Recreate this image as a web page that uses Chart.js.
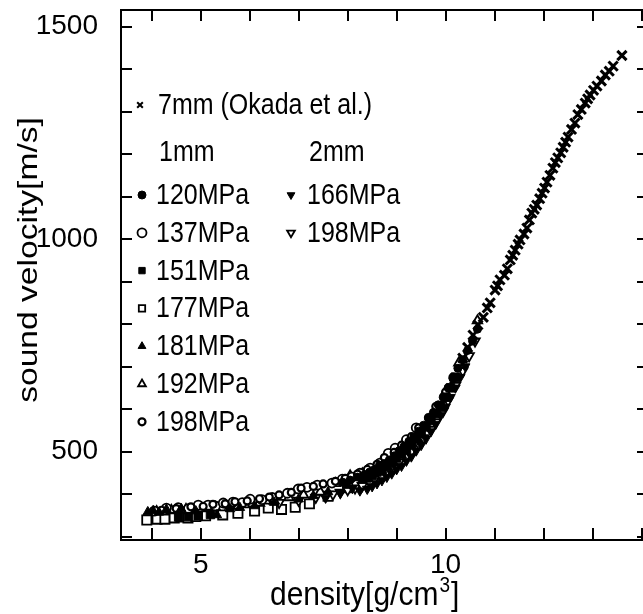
<!DOCTYPE html>
<html>
<head>
<meta charset="utf-8">
<script src="https://cdn.jsdelivr.net/npm/chart.js@4.4.1/dist/chart.umd.min.js"></script>
<style>
  html, body { margin: 0; padding: 0; background: #fff; overflow: hidden; }
  canvas { display: block; }
</style>
</head>
<body>
<canvas id="chart" width="643" height="614"></canvas>
<script>
// values (density g/cm3, velocity m/s)
const okadaDensity = [10.35, 10.45, 10.56, 10.66, 10.77, 10.85, 10.91, 11.01, 11.06, 11.11, 11.2, 11.26, 11.32, 11.37, 11.42, 11.48, 11.52, 11.6, 11.66, 11.71, 11.76, 11.81, 11.86, 11.92, 11.97, 12.02, 12.07, 12.13, 12.19, 12.24, 12.29, 12.35, 12.4, 12.45, 12.5, 12.57, 12.64, 12.7, 12.77, 12.85, 12.9, 12.95, 13.02, 13.09, 13.18, 13.26, 13.34, 13.42, 13.6];
const okadaVelocity = [720, 745, 774, 798, 816, 838, 850, 880, 890, 904, 915, 930, 951, 962, 974, 988, 998, 1012, 1026, 1045, 1061, 1070, 1080, 1095, 1108, 1120, 1134, 1150, 1167, 1180, 1191, 1203, 1216, 1228, 1240, 1258, 1273, 1293, 1305, 1320, 1330, 1339, 1350, 1360, 1372, 1386, 1395, 1407, 1432];

// 1mm samples
const p120Density = [7.9, 8.05, 8.2, 8.35, 8.45, 8.55, 8.65, 8.75, 8.85, 8.95, 9.05, 9.15, 9.25, 9.35, 9.45, 9.55, 9.65, 9.75, 9.85, 9.95, 10.05, 10.15, 10.25, 10.35, 10.45, 10.55, 10.65];
const p120Velocity = [428, 433, 440, 446, 452, 458, 468, 472, 480, 490, 502, 512, 524, 535, 548, 562, 578, 592, 610, 628, 650, 672, 696, 716, 738, 760, 788];
const p137Density = [4.05, 4.3, 4.54, 4.75, 4.95, 5.15, 5.3, 5.46, 5.66, 5.85, 6.01, 6.25, 6.46, 6.77, 6.99, 7.17, 7.38, 7.68, 7.89, 8.09, 8.25, 8.46, 8.66, 8.83, 8.97, 9.2, 9.4];
const p137Velocity = [360, 367, 368, 366, 374, 374, 372, 379, 381, 380, 388, 387, 392, 402, 412, 416, 421, 426, 435, 440, 449, 461, 473, 496, 508, 528, 556];
const p151Density = [4.55, 4.75, 4.95, 5.2, 8.4, 8.5, 8.6, 8.7, 8.8, 8.9, 9.0, 9.1, 9.2, 9.3, 9.4, 9.5, 9.6, 9.7, 9.8, 9.9, 10.0, 10.1, 10.2];
const p151Velocity = [346, 347, 349, 352, 438, 444, 452, 458, 465, 475, 485, 495, 505, 517, 530, 543, 558, 573, 590, 608, 628, 650, 675];
const p177Density = [3.9, 4.11, 4.27, 4.46, 4.6, 4.74, 4.9, 5.1, 5.45, 5.76, 6.1, 6.38, 6.65, 6.93, 7.22, 7.6, 8.0, 8.35];
const p177Velocity = [339, 341, 341, 344, 346, 344, 347, 349, 351, 355, 360, 367, 364, 369, 377, 395, 415, 428];
const p181Density = [3.92, 4.03, 4.15, 4.3, 4.6, 4.9, 5.33, 5.6, 5.8, 6.1, 6.5, 7.0, 7.3, 7.6, 8.0, 8.3, 8.7, 9.1, 9.5, 9.9];
const p181Velocity = [358, 361, 357, 364, 366, 360, 351, 365, 368, 372, 380, 388, 396, 405, 420, 432, 455, 492, 540, 600];
const p192Density = [4.1, 4.4, 4.7, 5.0, 5.3, 5.6, 5.9, 6.2, 6.5, 6.8, 7.1, 7.44, 7.75, 8.05, 8.3, 8.6, 8.9, 9.15, 9.45, 9.75, 10.0, 10.27, 10.65];
const p192Velocity = [359, 362, 364, 366, 369, 372, 375, 379, 384, 392, 398, 405, 425, 443, 448, 458, 480, 505, 545, 590, 640, 709, 808];
const p198Density = [4.2, 4.5, 4.8, 5.05, 5.25, 5.5, 5.7, 5.95, 6.2, 6.4, 6.6, 6.85, 7.05, 7.3, 7.5, 7.75, 7.95, 8.2, 8.4, 8.6, 8.75, 8.95, 9.1, 9.3, 9.45, 9.65, 9.8, 10.0, 10.15];
const p198Velocity = [362, 366, 370, 371, 376, 377, 382, 384, 389, 393, 398, 404, 414, 418, 424, 430, 437, 447, 458, 470, 486, 498, 515, 535, 556, 580, 606, 640, 675];

// 2mm samples
const q166Density = [7.55, 7.85, 8.1, 8.25, 8.4, 8.5, 8.6, 8.7, 8.8, 8.9, 9.0, 9.1, 9.2, 9.3, 9.4, 9.5, 9.6, 9.7, 9.8, 9.9, 10.0, 10.1, 10.2, 10.3, 10.4];
const q166Velocity = [391, 402, 414, 408, 412, 418, 425, 432, 440, 448, 458, 466, 478, 488, 502, 515, 530, 547, 565, 585, 605, 628, 650, 675, 700];
const q198Density = [6.6, 7.0, 7.35, 7.55, 7.7, 7.85, 8.0, 8.15, 8.3, 8.45, 8.55, 8.7, 8.8, 8.95, 9.05, 9.2, 9.3, 9.45, 9.55, 9.7, 9.8, 9.95, 10.05, 10.2, 10.35, 10.48, 10.6];
const q198Velocity = [380, 385, 392, 396, 400, 404, 410, 414, 420, 427, 435, 440, 452, 462, 475, 488, 500, 518, 532, 552, 570, 595, 620, 655, 690, 725, 760];

const okadaLabel = '7mm (Okada et al.)';
const groupHeaders = ['1mm', '2mm'];
const labels1mm = ['120MPa', '137MPa', '151MPa', '177MPa', '181MPa', '192MPa', '198MPa'];
const labels2mm = ['166MPa', '198MPa'];

const xTickLabels = [5, 10];
const yTickLabels = [500, 1000, 1500];

const FONT = '"Liberation Sans", Arial, Helvetica, sans-serif';

function pts(xs, ys) {
    return xs.map((x, i) => ({ x: x, y: ys[i] }));
}

// marker styles for each series
const okadaStyle = { pointStyle: 'crossRot', radius: 6.5, borderWidth: 3, fill: '#000', rotation: 0 };
const styles1mm = [
    { pointStyle: 'circle', radius: 4, borderWidth: 1, fill: '#000', rotation: 0 },
    { pointStyle: 'circle', radius: 4.5, borderWidth: 1.8, fill: '#fff', rotation: 0 },
    { pointStyle: 'rect', radius: 6, borderWidth: 1, fill: '#000', rotation: 0 },
    { pointStyle: 'rect', radius: 6.5, borderWidth: 1.8, fill: '#fff', rotation: 0 },
    { pointStyle: 'triangle', radius: 5.5, borderWidth: 1, fill: '#000', rotation: 0 },
    { pointStyle: 'triangle', radius: 5.5, borderWidth: 1.8, fill: '#fff', rotation: 0 },
    { pointStyle: 'circle', radius: 3.5, borderWidth: 2.2, fill: '#fff', rotation: 0 }
];
const styles2mm = [
    { pointStyle: 'triangle', radius: 5.5, borderWidth: 1, fill: '#000', rotation: 180 },
    { pointStyle: 'triangle', radius: 5.5, borderWidth: 1.8, fill: '#fff', rotation: 180 }
];

function makeSet(label, data, st) {
    return {
        label: label,
        data: data,
        pointStyle: st.pointStyle,
        pointRadius: st.radius,
        pointRotation: st.rotation,
        pointBorderWidth: st.borderWidth,
        pointBackgroundColor: st.fill,
        pointBorderColor: '#000',
        showLine: false
    };
}

// first dataset is drawn on top
const datasets = [
    makeSet(okadaLabel, pts(okadaDensity, okadaVelocity), okadaStyle),
    makeSet('1mm ' + labels1mm[0], pts(p120Density, p120Velocity), styles1mm[0]),
    makeSet('1mm ' + labels1mm[2], pts(p151Density, p151Velocity), styles1mm[2]),
    makeSet('2mm ' + labels2mm[0], pts(q166Density, q166Velocity), styles2mm[0]),
    makeSet('1mm ' + labels1mm[4], pts(p181Density, p181Velocity), styles1mm[4]),
    makeSet('1mm ' + labels1mm[6], pts(p198Density, p198Velocity), styles1mm[6]),
    makeSet('1mm ' + labels1mm[1], pts(p137Density, p137Velocity), styles1mm[1]),
    makeSet('1mm ' + labels1mm[5], pts(p192Density, p192Velocity), styles1mm[5]),
    makeSet('2mm ' + labels2mm[1], pts(q198Density, q198Velocity), styles2mm[1]),
    makeSet('1mm ' + labels1mm[3], pts(p177Density, p177Velocity), styles1mm[3])
];

function drawMarker(ctx, st, x, y) {
    ctx.save();
    ctx.fillStyle = st.fill;
    ctx.strokeStyle = '#000';
    ctx.lineWidth = st.borderWidth;
    Chart.helpers.drawPoint(ctx, { pointStyle: st.pointStyle, rotation: st.rotation, radius: st.radius, borderWidth: st.borderWidth }, x, y);
    ctx.restore();
}

// frame, inward ticks, axis titles and the legend
const decorations = {
    id: 'decorations',
    afterDraw(chart) {
        const ctx = chart.ctx;
        const a = chart.chartArea;
        const xs = chart.scales.x;
        const ys = chart.scales.y;
        ctx.save();
        ctx.strokeStyle = '#000';
        ctx.lineWidth = 2;
        // the right edge of the frame falls just outside the picture
        ctx.beginPath();
        ctx.moveTo(a.right + 4, a.top);
        ctx.lineTo(a.left, a.top);
        ctx.lineTo(a.left, a.bottom);
        ctx.lineTo(a.right + 4, a.bottom);
        ctx.stroke();
        ctx.beginPath();
        xs.ticks.forEach(t => {
            const px = Math.round(xs.getPixelForValue(t.value));
            ctx.moveTo(px, a.bottom);
            ctx.lineTo(px, a.bottom - 12);
            ctx.moveTo(px, a.top);
            ctx.lineTo(px, a.top + 11);
        });
        ys.ticks.forEach(t => {
            const py = Math.round(ys.getPixelForValue(t.value));
            ctx.moveTo(a.left, py);
            ctx.lineTo(a.left + 11, py);
            ctx.moveTo(a.right, py);
            ctx.lineTo(a.right - 6, py);
        });
        ctx.stroke();

        ctx.fillStyle = '#000';
        // y title
        ctx.save();
        ctx.translate(29, 260);
        ctx.rotate(-Math.PI / 2);
        ctx.scale(1.2, 1);
        ctx.font = '28px ' + FONT;
        ctx.textAlign = 'center';
        ctx.textBaseline = 'middle';
        ctx.fillText('sound velocity[m/s]', 0, 0);
        ctx.restore();

        // x title with superscript
        ctx.save();
        ctx.translate(270, 605);
        ctx.scale(1, 1.12);
        ctx.textBaseline = 'alphabetic';
        ctx.textAlign = 'left';
        ctx.font = '30px ' + FONT;
        const part1 = 'density[g/cm';
        ctx.fillText(part1, 0, 0);
        let w = ctx.measureText(part1).width;
        ctx.font = '19px ' + FONT;
        ctx.fillText('3', w + 1, -12);
        w += ctx.measureText('3').width + 2;
        ctx.font = '30px ' + FONT;
        ctx.fillText(']', w, 0);
        ctx.restore();

        // legend
        function legendText(txt, x, y) {
            ctx.save();
            ctx.translate(x, y);
            ctx.scale(1, 1.15);
            ctx.font = '25px ' + FONT;
            ctx.textAlign = 'left';
            ctx.textBaseline = 'middle';
            ctx.fillText(txt, 0, 0);
            ctx.restore();
        }
        drawMarker(ctx, { pointStyle: 'crossRot', radius: 4, borderWidth: 2, fill: '#000', rotation: 0 }, 140, 105);
        legendText(okadaLabel, 158, 106);
        legendText(groupHeaders[0], 159, 153);
        legendText(groupHeaders[1], 309, 153);
        labels1mm.forEach((lab, i) => {
            const yy = 195 + i * 37.8;
            const st = Object.assign({}, styles1mm[i], { radius: Math.min(styles1mm[i].radius, 4.5) });
            drawMarker(ctx, st, 142, yy);
            legendText(lab, 156, yy + 1);
        });
        labels2mm.forEach((lab, i) => {
            const yy = 195 + i * 37.8;
            drawMarker(ctx, Object.assign({}, styles2mm[i], { radius: 4.5 }), 291, yy);
            legendText(lab, 307, yy + 1);
        });
        ctx.restore();
    }
};

new Chart(document.getElementById('chart'), {
    type: 'scatter',
    data: { datasets: datasets },
    options: {
        responsive: false,
        animation: false,
        layout: { autoPadding: false, padding: { left: 0, right: 0, top: 10, bottom: 0 } },
        plugins: { legend: { display: false }, tooltip: { enabled: false } },
        scales: {
            x: {
                type: 'linear',
                min: 3.373,
                max: 14.03,
                grid: { display: false, drawTicks: false },
                border: { display: false },
                ticks: {
                    stepSize: 1,
                    includeBounds: false,
                    autoSkip: false,
                    maxRotation: 0,
                    padding: 8,
                    color: '#000',
                    font: { family: FONT, size: 28 },
                    callback: v => xTickLabels.includes(v) ? String(v) : ''
                },
                afterFit: s => { s.height = 74; s.paddingLeft = 0; s.paddingRight = 0; }
            },
            y: {
                type: 'linear',
                min: 292,
                max: 1539,
                grid: { display: false, drawTicks: false },
                border: { display: false },
                ticks: {
                    stepSize: 100,
                    includeBounds: false,
                    autoSkip: false,
                    padding: 23,
                    color: '#000',
                    font: { family: FONT, size: 28 },
                    callback: v => yTickLabels.includes(v) ? String(v) : ''
                },
                afterFit: s => { s.width = 121; s.paddingTop = 0; s.paddingBottom = 0; }
            }
        }
    },
    plugins: [decorations]
});
</script>
</body>
</html>
